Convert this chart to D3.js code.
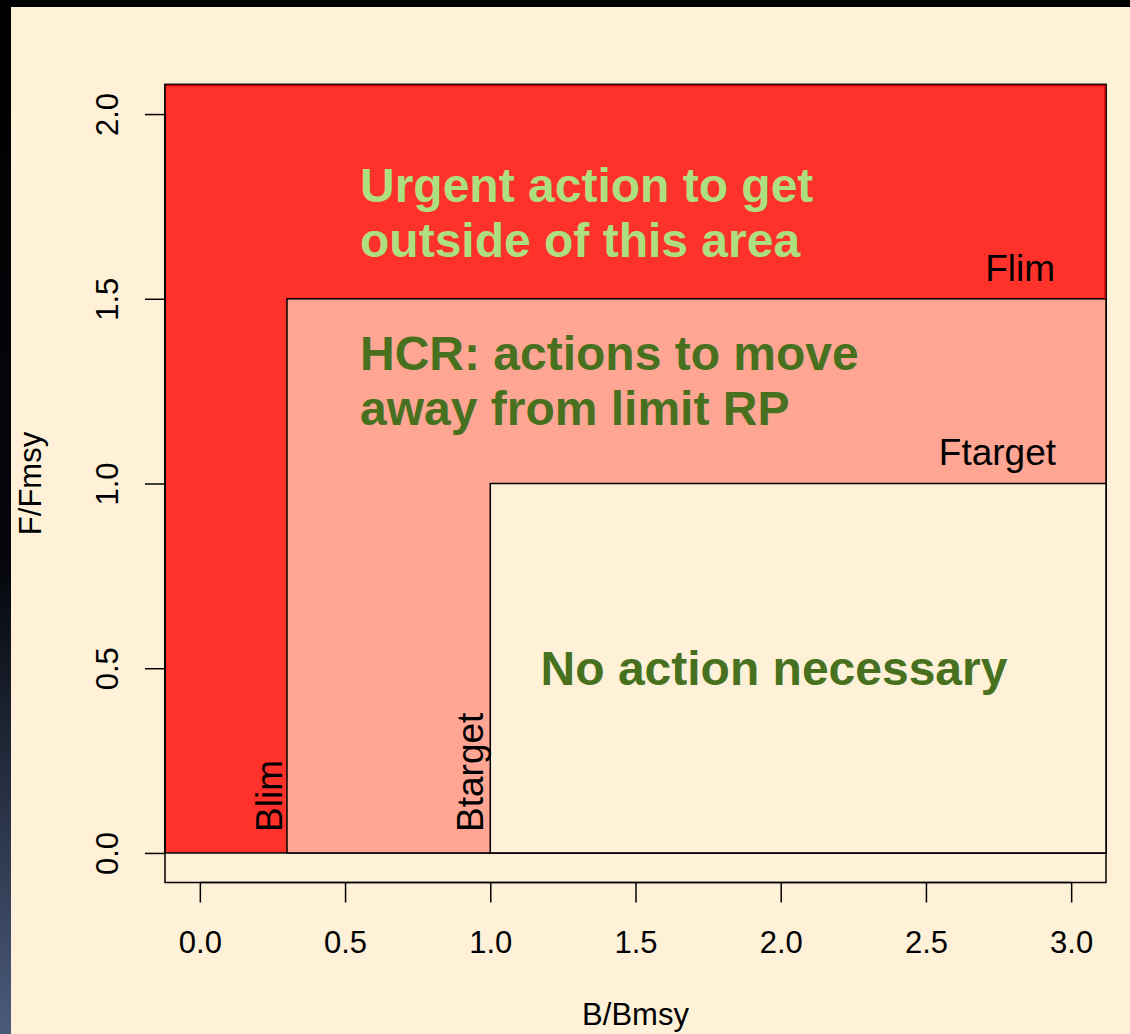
<!DOCTYPE html>
<html>
<head>
<meta charset="utf-8">
<script src="https://cdn.jsdelivr.net/npm/d3@7"></script>
<style>
html,body{margin:0;padding:0;background:#000;}
svg{display:block;}
text{font-family:"Liberation Sans",Arial,Helvetica,sans-serif;}
</style>
</head>
<body>
<svg id="chart" width="1130" height="1034"></svg>
<script>
// ---- data ----
const xTicks = [0, 0.5, 1, 1.5, 2, 2.5, 3];
const yTicks = [0, 0.5, 1, 1.5, 2];
const xTickLabels = ["0.0","0.5","1.0","1.5","2.0","2.5","3.0"];
const yTickLabels = ["0.0","0.5","1.0","1.5","2.0"];
const xDomain = [-0.12, 3.12];
const yDomain = [-0.08, 2.08];
// zones: [x0, x1, y0, y1]
const zoneNames = ["urgent", "hcr", "none"];
const zoneX0 = [-0.12, 0.3, 1.0];
const zoneX1 = [3.12, 3.12, 3.12];
const zoneY0 = [0, 0, 0];
const zoneY1 = [2.08, 1.5, 1.0];
const zoneFill = ["#FF312B", "#FFA593", "#FFF0D8"];
const zoneStroke = ["#000000", "#000000", "#000000"];
// reference points
const Blim = 0.3, Btarget = 1.0, Flim = 1.5, Ftarget = 1.0;
const xLabel = "B/Bmsy", yLabel = "F/Fmsy";
const urgentLines = ["Urgent action to get", "outside of this area"];
const hcrLines = ["HCR: actions to move", "away from limit RP"];
const noneText = "No action necessary";

// ---- layout ----
const W = 1130, H = 1034;
const svg = d3.select("#chart");
const plotL = 165, plotR = 1106, plotT = 84.5, plotB = 882.5;
const x = d3.scaleLinear().domain(xDomain).range([plotL, plotR]);
const y = d3.scaleLinear().domain(yDomain).range([plotB, plotT]);

const defs = svg.append("defs");
const grad = defs.append("linearGradient").attr("id","lg").attr("x1",0).attr("y1",0).attr("x2",0).attr("y2",1);
grad.append("stop").attr("offset","0%").attr("stop-color","#000");
grad.append("stop").attr("offset","55%").attr("stop-color","#05070c");
grad.append("stop").attr("offset","100%").attr("stop-color","#4B5B7C");

svg.append("rect").attr("x",0).attr("y",0).attr("width",W).attr("height",H).attr("fill","#000");
svg.append("rect").attr("x",0).attr("y",0).attr("width",11).attr("height",H).attr("fill","url(#lg)");
svg.append("rect").attr("x",11).attr("y",7).attr("width",W-11).attr("height",H-7).attr("fill","#FFF0D8");

// box
svg.append("rect").attr("x",plotL).attr("y",plotT).attr("width",plotR-plotL).attr("height",plotB-plotT)
  .attr("fill","none").attr("stroke","#000").attr("stroke-width",1.5);

// zones
zoneNames.forEach((n,i)=>{
  svg.append("rect")
    .attr("x", x(zoneX0[i])).attr("y", y(zoneY1[i]))
    .attr("width", x(zoneX1[i]) - x(zoneX0[i]))
    .attr("height", y(zoneY0[i]) - y(zoneY1[i]))
    .attr("fill", zoneFill[i]).attr("stroke", zoneStroke[i]).attr("stroke-width", 1.5);
});
// dark red top/right edge of the urgent zone
svg.append("path")
  .attr("d", `M${x(zoneX0[0])+1},${y(zoneY1[0])+1}H${x(zoneX1[0])-1}V${y(zoneY1[1])}`)
  .attr("fill","none").attr("stroke","#C80A0A").attr("stroke-width",1.5);

// x axis
const xAxis = d3.axisBottom(x).tickValues(xTicks).tickSize(20).tickSizeOuter(0)
  .tickFormat((d,i)=>xTickLabels[i]);
const gx = svg.append("g").attr("transform",`translate(0,${plotB})`).call(xAxis);
gx.select(".domain").attr("d", `M${x(xTicks[0])},0H${x(xTicks[xTicks.length-1])}`).attr("stroke","#000").attr("stroke-width",1.5);
gx.selectAll(".tick line").attr("stroke","#000").attr("stroke-width",1.5);
gx.selectAll(".tick text").attr("font-size",31).attr("fill","#000").attr("dy",null).attr("y",70.5)
  .style("font-family",'"Liberation Sans",Arial,sans-serif');

// y axis
const yAxis = d3.axisLeft(y).tickValues(yTicks).tickSize(20).tickSizeOuter(0)
  .tickFormat((d,i)=>yTickLabels[i]);
const gy = svg.append("g").attr("transform",`translate(${plotL},0)`).call(yAxis);
gy.select(".domain").attr("d", `M0,${y(yTicks[0])}V${y(yTicks[yTicks.length-1])}`).attr("stroke","#000").attr("stroke-width",1.5);
gy.selectAll(".tick line").attr("stroke","#000").attr("stroke-width",1.5);
gy.selectAll(".tick text").attr("font-size",31).attr("fill","#000")
  .attr("x",null).attr("dy",null).attr("text-anchor","middle")
  .attr("transform","translate(-47,0) rotate(-90)")
  .style("font-family",'"Liberation Sans",Arial,sans-serif');

// axis titles
svg.append("text").attr("x",(plotL+plotR)/2).attr("y",1025).attr("text-anchor","middle")
  .attr("font-size",31).attr("fill","#000").text(xLabel);
svg.append("text").attr("transform",`translate(41,${(plotT+plotB)/2}) rotate(-90)`).attr("text-anchor","middle")
  .attr("font-size",31).attr("fill","#000").text(yLabel);

// reference point labels
svg.append("text").attr("x",1055).attr("y",y(Flim)-18).attr("text-anchor","end").attr("font-size",37).attr("fill","#000").text("Flim");
svg.append("text").attr("x",1056).attr("y",y(Ftarget)-19).attr("text-anchor","end").attr("font-size",37).attr("fill","#000").text("Ftarget");
svg.append("text").attr("transform",`translate(${x(Blim)-5},${y(0)-21}) rotate(-90)`).attr("font-size",37).attr("fill","#000").text("Blim");
svg.append("text").attr("transform",`translate(${x(Btarget)-7},${y(0)-21}) rotate(-90)`).attr("font-size",37).attr("fill","#000").text("Btarget");

// zone texts
const big = 48;
urgentLines.forEach((t,i)=>{
  svg.append("text").attr("x",360).attr("y",202+i*55).attr("font-size",big).attr("font-weight","bold")
    .attr("fill","#AEDF7E").text(t);
});
hcrLines.forEach((t,i)=>{
  svg.append("text").attr("x",360).attr("y",370+i*55).attr("font-size",big).attr("font-weight","bold")
    .attr("fill","#47711F").text(t);
});
svg.append("text").attr("x",774).attr("y",685).attr("text-anchor","middle").attr("font-size",big).attr("font-weight","bold")
  .attr("fill","#47711F").text(noneText);
</script>
</body>
</html>
